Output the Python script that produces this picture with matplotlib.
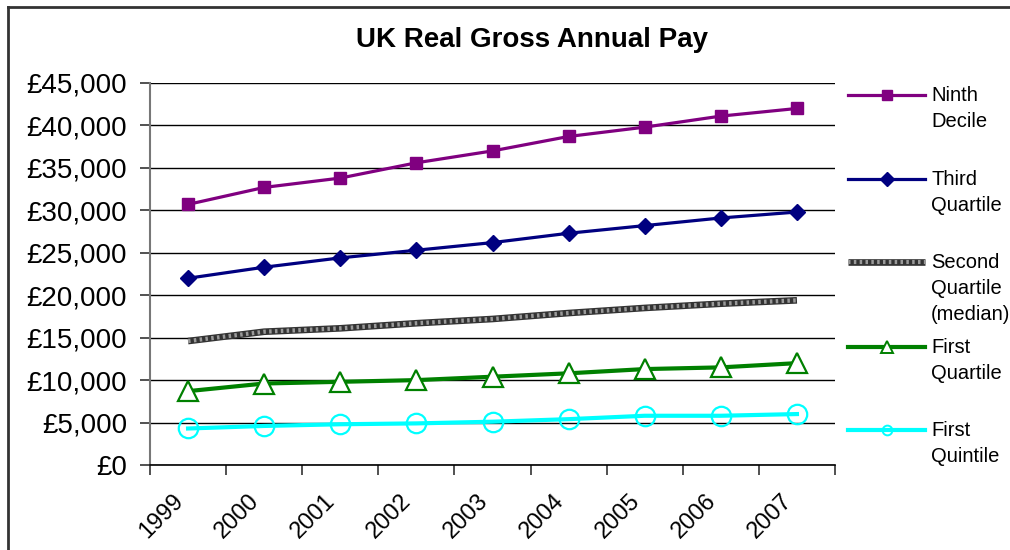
import matplotlib
matplotlib.use("Agg")
import matplotlib.pyplot as plt
from matplotlib.lines import Line2D
from matplotlib.ticker import FuncFormatter, MultipleLocator, FixedLocator
from matplotlib.transforms import ScaledTranslation
import numpy as np

plt.rcParams['font.family'] = ['Liberation Sans', 'DejaVu Sans']

years = ['1999', '2000', '2001', '2002', '2003', '2004', '2005', '2006', '2007']
ninth_decile = [30700, 32700, 33800, 35600, 37000, 38700, 39800, 41100, 42000]
third_quartile = [22000, 23300, 24400, 25300, 26200, 27300, 28200, 29100, 29800]
median = [14600, 15700, 16100, 16700, 17200, 17900, 18500, 19000, 19400]
first_quartile = [8700, 9600, 9800, 10000, 10400, 10800, 11300, 11500, 12000]
first_quintile = [4300, 4600, 4800, 4900, 5100, 5400, 5800, 5800, 6000]

fig = plt.figure(figsize=(10.1, 5.5), dpi=100)
ax = fig.add_axes([150/1010, 1-465/550, 685/1010, 382/550])

x = np.arange(len(years))

ax.plot(x, ninth_decile, color='#800080', lw=2.3, marker='s', ms=8.5, zorder=5)
ax.plot(x, third_quartile, color='#000080', lw=2.3, marker='D', ms=8.5, zorder=5)
ax.plot(x, median, color='#333333', lw=4.8, solid_capstyle='butt', zorder=4)
ax.plot(x, median, color='#9a9a9a', lw=3.0, ls=(0, (0.6, 0.8)), solid_capstyle='butt', zorder=4)
ax.plot(x, first_quartile, color='#008000', lw=3.0, marker='^', ms=14,
        mfc='white', mec='#008000', mew=1.6, zorder=5)
ax.plot(x, first_quintile, color='#00FFFF', lw=3.0, marker='o', ms=14,
        mfc='none', mec='#00FFFF', mew=1.6, zorder=5)

ax.set_xlim(-0.5, len(years) - 0.5)
ax.set_ylim(0, 45000)
ax.yaxis.set_major_locator(MultipleLocator(5000))
ax.yaxis.set_major_formatter(FuncFormatter(lambda v, p: '£{:,.0f}'.format(v)))
ax.grid(axis='y', color='black', lw=1.0)
ax.set_axisbelow(True)

ax.set_xticks(x)
ax.set_xticklabels(years, rotation=45, ha='right', va='top', rotation_mode='anchor', fontsize=17)
ax.xaxis.set_minor_locator(FixedLocator(np.arange(-0.5, len(years), 1.0)))
ax.tick_params(axis='x', which='major', length=0, pad=18)
ax.tick_params(axis='x', which='minor', length=7, width=1.2, color='#333333')
ax.tick_params(axis='y', length=7, width=1.2, color='#333333', labelsize=20, pad=9.5)
shift = ScaledTranslation(-16/100, 0, fig.dpi_scale_trans)
for lbl in ax.get_xticklabels():
    lbl.set_transform(lbl.get_transform() + shift)

for s in ['top', 'right']:
    ax.spines[s].set_visible(False)
ax.spines['left'].set_color('#777777')
ax.spines['left'].set_linewidth(1.5)
ax.spines['bottom'].set_color('black')
ax.spines['bottom'].set_linewidth(1.2)

fig.text(532/1010, 1-40/550, 'UK Real Gross Annual Pay', ha='center', va='center',
         fontsize=20, fontweight='bold')

# Legend drawn manually
W, H = 1010, 550
entries = [
    ('Ninth\nDecile', dict(color='#800080', lw=2.3, marker='s', ms=7), 95),
    ('Third\nQuartile', dict(color='#000080', lw=2.3, marker='D', ms=7), 179),
    ('Second\nQuartile\n(median)', None, 262),
    ('First\nQuartile', dict(color='#008000', lw=3.0, marker='^', ms=8, mfc='white', mec='#008000', mew=1.4), 347),
    ('First\nQuintile', dict(color='#00FFFF', lw=3.0, marker='o', ms=7, mfc='none', mec='#00FFFF', mew=1.4), 430),
]
for label, style, yy in entries:
    yf = 1 - yy/H
    if style is None:
        fig.add_artist(Line2D([848/W, 925/W], [yf, yf], transform=fig.transFigure,
                              color='#333333', lw=4.8, solid_capstyle='butt'))
        fig.add_artist(Line2D([848/W, 925/W], [yf, yf], transform=fig.transFigure,
                              color='#9a9a9a', lw=3.0, ls=(0, (0.6, 0.8))))
    else:
        ln = Line2D([848/W, 925/W], [yf, yf], transform=fig.transFigure, **style)
        ln.set_markevery([])
        fig.add_artist(ln)
        m = dict(style)
        m['lw'] = 0
        fig.add_artist(Line2D([886.5/W], [yf], transform=fig.transFigure, **m))
    fig.text(931/W, 1 - (yy - 9)/H, label, ha='left', va='top', fontsize=14.5, linespacing=1.45)

# Figure border (top and left)
fig.add_artist(Line2D([8/W, 1.0], [1-7/H, 1-7/H], transform=fig.transFigure, color='#333333', lw=2))
fig.add_artist(Line2D([8/W, 8/W], [0, 1-7/H], transform=fig.transFigure, color='#333333', lw=2))

fig.savefig('out.png', dpi=100)
